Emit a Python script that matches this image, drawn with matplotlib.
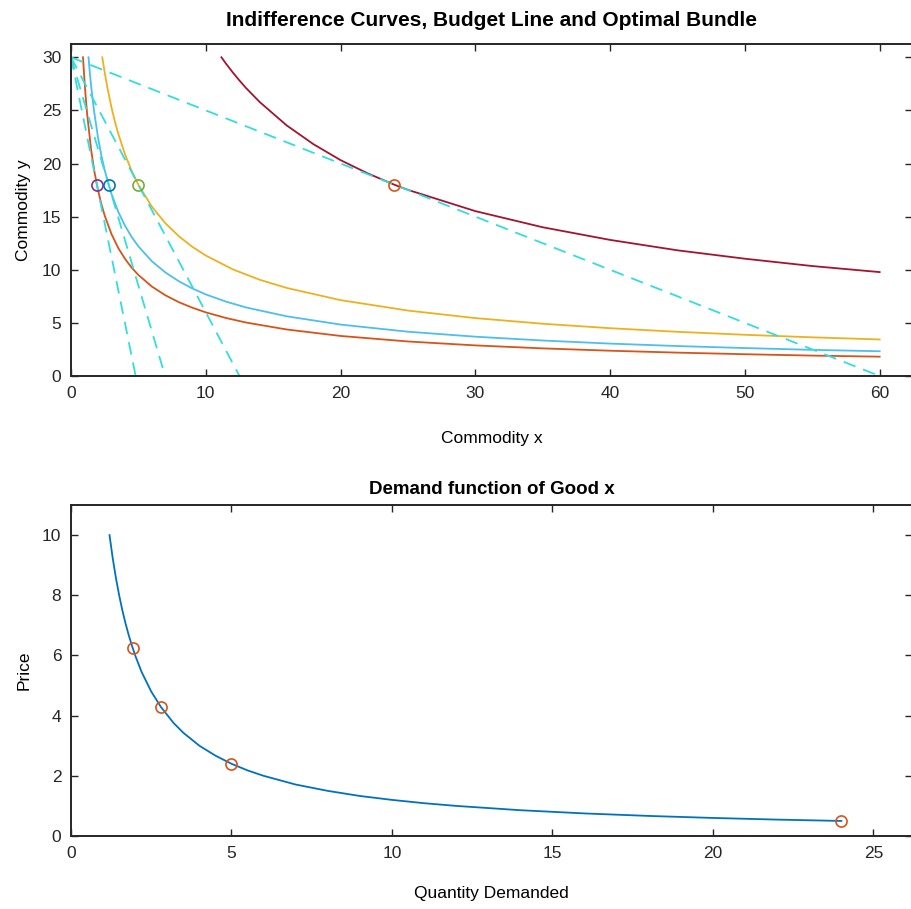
import matplotlib
matplotlib.use("Agg")
import matplotlib.pyplot as plt

plt.rcParams['font.family'] = ['Liberation Sans', 'DejaVu Sans']

# indifference curves, values
ic1_x = [0.89, 1.0, 1.1, 1.2, 1.5, 1.75, 2.0, 2.25, 2.5, 3.0, 3.5, 4.0, 4.5, 5.0, 6.0, 7.0, 8.0, 9.0,
         10.0, 11.5, 13.0, 16.0, 20.0, 25.0, 30.0, 35.0, 40.0, 45.0, 50.0, 55.0, 60.0]
ic1_y = [30.0, 27.81, 26.10, 24.63, 21.22, 19.15, 17.52, 16.20, 15.10, 13.37, 12.06, 11.04, 10.20, 9.51,
         8.42, 7.60, 6.95, 6.43, 5.99, 5.46, 5.03, 4.38, 3.77, 3.25, 2.88, 2.60, 2.38, 2.20, 2.05, 1.92, 1.82]

ic2_x = [1.30, 1.4, 1.5, 1.7, 2.0, 2.25, 2.5, 3.0, 3.5, 4.0, 4.5, 5.0, 6.0, 7.0, 8.0, 9.0, 10.0,
         11.5, 13.0, 16.0, 20.0, 25.0, 30.0, 35.0, 40.0, 45.0, 50.0, 55.0, 60.0]
ic2_y = [30.0, 28.50, 27.22, 25.04, 22.47, 20.77, 19.37, 17.15, 15.47, 14.16, 13.09, 12.20, 10.80, 9.75,
         8.92, 8.24, 7.68, 7.00, 6.45, 5.62, 4.84, 4.17, 3.70, 3.34, 3.05, 2.82, 2.63, 2.46, 2.33]

ic3_x = [2.32, 2.5, 2.7, 3.0, 3.25, 3.5, 4.0, 4.5, 5.0, 6.0, 7.0, 8.0, 9.0, 10.0, 12.0, 14.0, 16.0,
         20.0, 25.0, 30.0, 35.0, 40.0, 45.0, 50.0, 55.0, 60.0]
ic3_y = [30.0, 28.57, 27.14, 25.30, 23.98, 22.83, 20.89, 19.31, 18.00, 15.94, 14.38, 13.16, 12.16, 11.34,
         10.04, 9.06, 8.29, 7.14, 6.16, 5.45, 4.92, 4.50, 4.16, 3.88, 3.64, 3.44]

ic4_x = [11.16, 11.5, 12.0, 12.5, 13.0, 14.0, 16.0, 18.0, 20.0, 22.0, 24.0, 25.0, 30.0, 35.0, 40.0,
         45.0, 50.0, 55.0, 60.0]
ic4_y = [30.0, 29.40, 28.58, 27.81, 27.09, 25.79, 23.59, 21.81, 20.32, 19.08, 18.00, 17.52, 15.52, 14.00,
         12.81, 11.83, 11.04, 10.35, 9.78]

# budget lines: y intercept and x intercepts
budget_y0 = 30.0
budget_x_end = [4.8, 6.98, 12.5, 60.0]

# optimal bundles
opt_x = [1.92, 2.79, 5.0, 24.0]
opt_y = [18.0, 18.0, 18.0, 18.0]
opt_colors = ['#7E2F8E', '#0072BD', '#77AC30', '#D95319']

ic_colors = ['#D95319', '#4DBEEE', '#EDB120', '#A2142F']

# demand curve
demand_q = [1.2, 1.3, 1.4, 1.5, 1.6, 1.7, 1.8, 1.9, 2.0, 2.2, 2.5, 2.8, 3.2, 3.5, 4.0, 4.5, 5.0, 5.5,
            6.0, 7.0, 8.0, 9.0, 10.0, 11.0, 12.0, 14.0, 16.0, 18.0, 20.0, 22.0, 24.0]
demand_p = [10.0, 9.23, 8.57, 8.0, 7.5, 7.06, 6.67, 6.32, 6.0, 5.45, 4.8, 4.29, 3.75, 3.43, 3.0, 2.67,
            2.4, 2.18, 2.0, 1.71, 1.5, 1.33, 1.2, 1.09, 1.0, 0.857, 0.75, 0.667, 0.6, 0.545, 0.5]
price_pts = [6.25, 4.3, 2.4, 0.5]

fig = plt.figure(figsize=(9.12, 9.09), dpi=100)
ax1 = fig.add_axes([71 / 912, 1 - 376 / 909, 1 - 71 / 912, 332 / 909])
ax2 = fig.add_axes([71 / 912, 1 - 836 / 909, 1 - 71 / 912, 331 / 909])

ics = [(ic1_x, ic1_y), (ic2_x, ic2_y), (ic3_x, ic3_y), (ic4_x, ic4_y)]
for i in range(4):
    xs, ys = ics[i]
    ax1.plot(xs, ys, color=ic_colors[i], lw=1.3)
    ax1.plot([0, budget_x_end[i]], [budget_y0, 0], color='#33DDDD', lw=1.3,
             dashes=(7, 4.5))
    ax1.plot(opt_x[i], opt_y[i], 'o', mfc='none', mec=opt_colors[i], ms=8, mew=1.2)

ax1.set_xlim(0, 62.4)
ax1.set_ylim(0, 31.25)
ax1.set_xticks(range(0, 61, 10))
ax1.set_yticks(range(0, 31, 5))
ax1.set_title('Indifference Curves, Budget Line and Optimal Bundle',
              fontsize=15, fontweight='bold', pad=13)
ax1.set_xlabel('Commodity x', fontsize=12.5, labelpad=22)
ax1.set_ylabel('Commodity y', fontsize=12.5, labelpad=7.5)

ax2.plot(demand_q, demand_p, color='#0072BD', lw=1.3)
ax2.plot(opt_x, price_pts, 'o', mfc='none', mec='#D95319', ms=8, mew=1.2)
ax2.set_xlim(0, 26.2)
ax2.set_ylim(0, 11)
ax2.set_xticks(range(0, 26, 5))
ax2.set_yticks(range(0, 11, 2))
ax2.set_title('Demand function of Good x', fontsize=13.5, fontweight='bold', pad=8)
ax2.set_xlabel('Quantity Demanded', fontsize=12.5, labelpad=18)
ax2.set_ylabel('Price', fontsize=12.5, labelpad=7.5)

for ax in (ax1, ax2):
    ax.tick_params(direction='in', top=True, right=True, length=5, width=1,
                   labelsize=12.5, colors='#262626', pad=7)
    for side in ('left', 'bottom', 'top'):
        ax.spines[side].set_linewidth(1.4)
        ax.spines[side].set_color('#262626')
    ax.spines['right'].set_visible(False)

fig.savefig('out.png', dpi=100)
